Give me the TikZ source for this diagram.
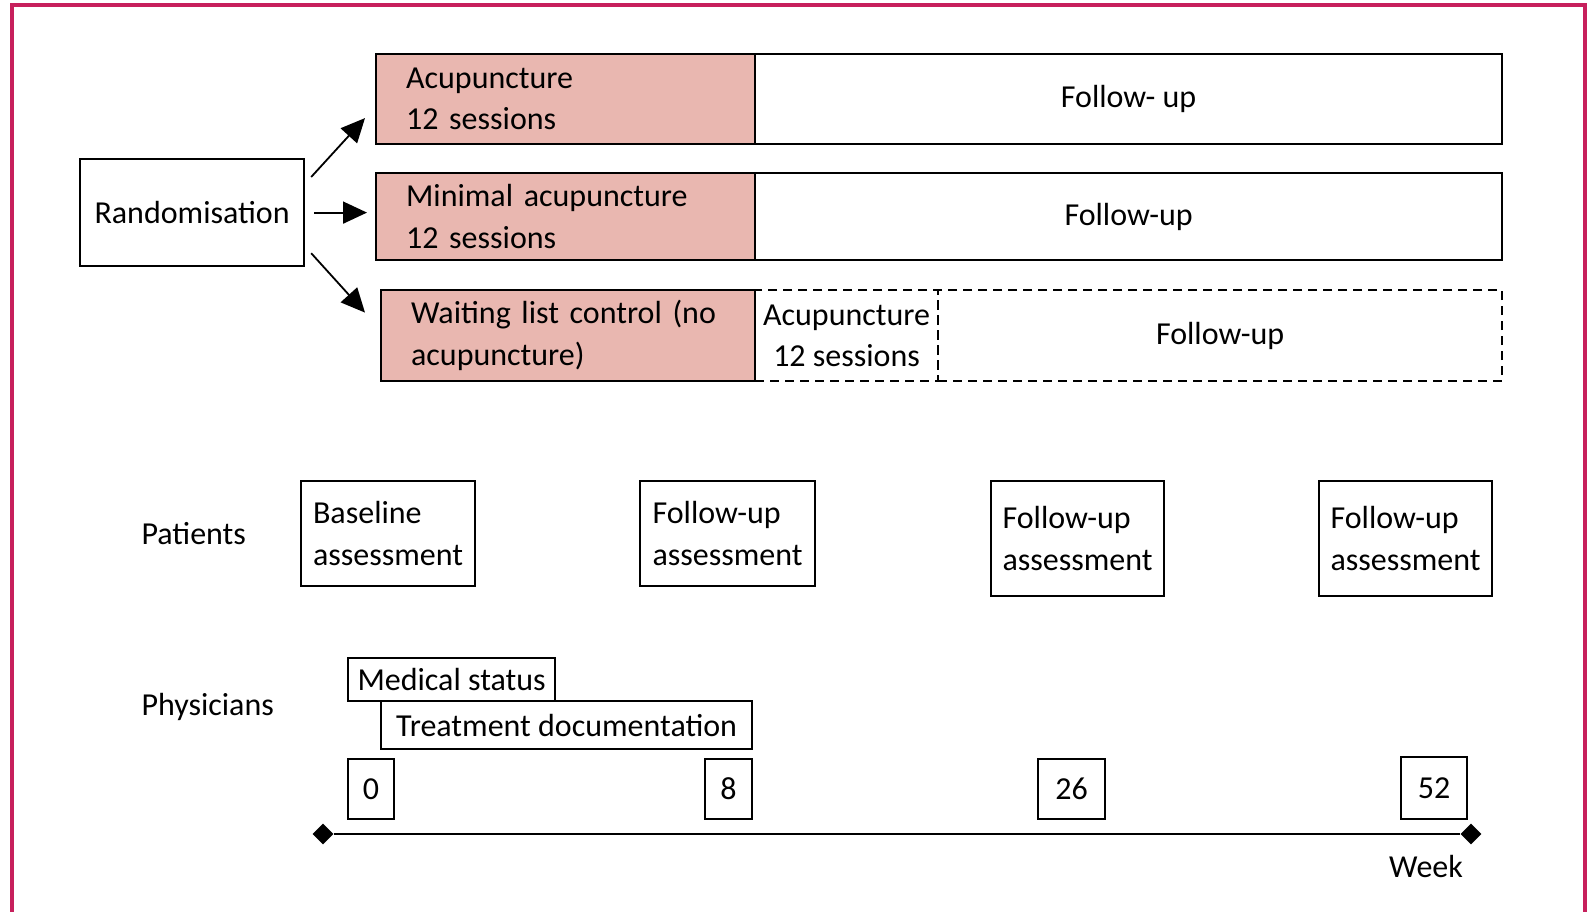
\documentclass[tikz,border=0pt]{standalone}
\usepackage{fontspec}
\setmainfont{Carlito}
\usetikzlibrary{arrows.meta,shapes.geometric}
\definecolor{armfill}{RGB}{233,183,176}
\definecolor{framecol}{RGB}{199,32,92}
\tikzset{
  every node/.style={font=\fontsize{32}{41.5}\selectfont},
  box/.style={
    draw, rectangle, line width=2.2pt, inner sep=0pt, anchor=north west, align=center
  },
  armbox/.style={
    box, fill=armfill, align=left, inner xsep=30pt
  },
  dbox/.style={
    box, dash pattern=on 9pt off 6pt
  },
  weekbox/.style={
    box, line width=2pt
  },
  tip/.style={
    diamond, fill, inner sep=0pt, minimum size=21pt
  },
  arr/.style={
    -{Triangle[length=24pt,width=22pt]}, line width=1.8pt
  }
}

\begin{document}
\begin{tikzpicture}[x=1pt,y=-1pt]
   \useasboundingbox (0,0) rectangle (1589,912);
   \draw[framecol, line width=3.5pt] (12,912) -- (12,5) -- (1585,5) -- (1585,912);

   \node[box, minimum width=224pt, minimum height=107pt] (rand) at (79,158) {Randomisation};

   \node[armbox, minimum height=90pt, text width=319pt] (acu) at (375,53) {Acupuncture\\12 sessions};
   \node[box, minimum width=747pt, minimum height=90pt] (acufu) at (754,53) {Follow- up};

   \node[armbox, minimum height=87pt, text width=319pt] (min) at (375,172) {Minimal acupuncture\\12 sessions};
   \node[box, minimum width=747pt, minimum height=87pt] (minfu) at (754,172) {Follow-up};

   \node[dbox, minimum width=183pt, minimum height=91pt] (waitacu) at (754,289) {Acupuncture\\12 sessions};
   \node[dbox, minimum width=564pt, minimum height=91pt] (waitfu) at (937,289) {Follow-up};
   \node[armbox, minimum height=91pt, text width=314pt] (wait) at (380,289) {Waiting list control (no\\acupuncture)};

   \draw[arr] ([shift={(6,19)}]rand.north east) -- ([shift={(-10,19)}]acu.west);
   \draw[arr, shorten <=9pt, shorten >=8pt] (rand.east) -- (rand.east -| min.west);
   \draw[arr] ([shift={(6,-14)}]rand.south east) -- ([shift={(-15,-23)}]wait.west);

   \node[anchor=west] (pat) at (138,534) {Patients};
   \node[box, minimum width=174pt, minimum height=105pt, align=left] (base) at (300,480) {Baseline\\assessment};
   \node[box, minimum width=175pt, minimum height=105pt, align=left] (fua) at (639,480) {Follow-up\\assessment};
   \node[box, minimum width=173pt, minimum height=115pt, align=left] (fub) at (990,480) {Follow-up\\assessment};
   \node[box, minimum width=173pt, minimum height=115pt, align=left] (fuc) at (1318,480) {Follow-up\\assessment};

   \node[anchor=west] (phys) at (138,707) {Physicians};
   \node[box, minimum width=207pt, minimum height=43pt] (med) at (347,657) {Medical status};
   \node[box, minimum width=371pt, minimum height=48pt] (treat) at (380,700) {Treatment documentation};

   \node[weekbox, minimum width=46pt, minimum height=60pt] (w0) at (347,758) {0};
   \node[weekbox, minimum width=47pt, minimum height=60pt] (w8) at (704,758) {8};
   \node[weekbox, minimum width=67pt, minimum height=60pt] (w26) at (1037,758) {26};
   \node[weekbox, minimum width=66pt, minimum height=62pt] (w52) at (1400,756) {52};

   \node[tip] (tl) at (323,834) {};
   \node[tip] (tr) at (1471,834) {};
   \draw[line width=2pt] (tl) -- (tr);
   \node (week) at (1426,866) {Week};
\end{tikzpicture}
\end{document}
